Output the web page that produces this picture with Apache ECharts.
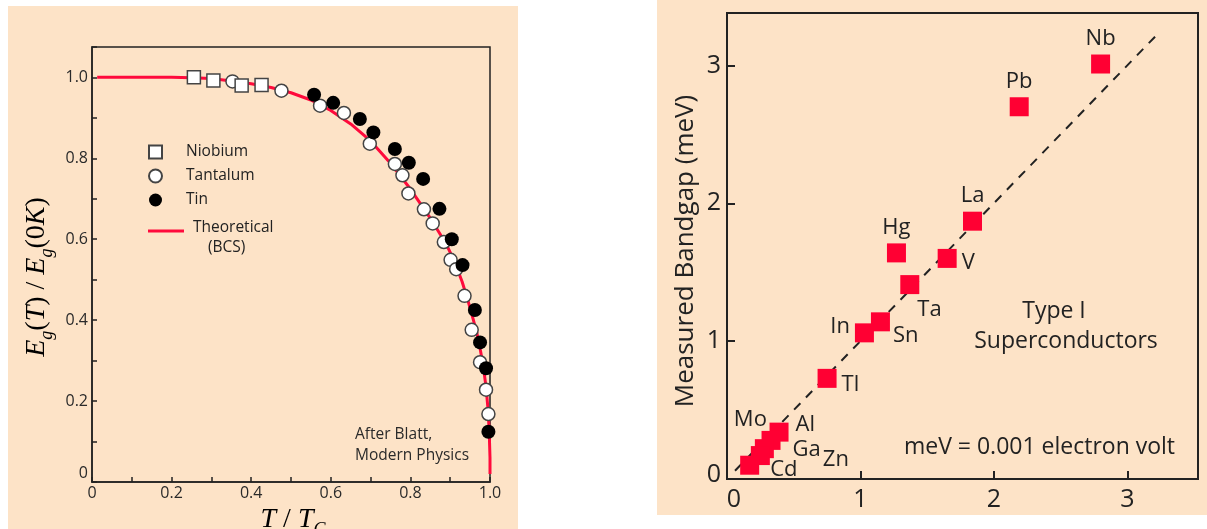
<!DOCTYPE html>
<html><head><meta charset="utf-8">
<script src="https://cdn.jsdelivr.net/npm/echarts@6/dist/echarts.min.js"></script>
<style>html,body{margin:0;padding:0;background:#fff}#c{width:1207px;height:529px}</style>
</head><body><div id="c"></div>
<script>
// ---------- Left panel data: E_g(T)/E_g(0K) vs T/Tc ----------
const niobium = [[0.256,1.0],[0.305,0.992],[0.376,0.98],[0.426,0.981]];
const tantalum = [[0.353,0.99],[0.476,0.967],[0.573,0.93],[0.633,0.912],[0.698,0.836],[0.761,0.786],
  [0.78,0.758],[0.795,0.713],[0.834,0.674],[0.856,0.639],[0.884,0.593],[0.901,0.549],[0.915,0.526],
  [0.936,0.46],[0.954,0.376],[0.975,0.296],[0.99,0.228],[0.996,0.168],[1.004,0.057]];
const tin = [[0.558,0.957],[0.606,0.937],[0.673,0.897],[0.707,0.864],[0.761,0.823],[0.796,0.789],
  [0.832,0.749],[0.873,0.675],[0.904,0.6],[0.931,0.536],[0.962,0.425],[0.975,0.345],[0.99,0.281],[0.996,0.124]];
const bcsCurve = [[0.013,1.0],[0.1,1.0],[0.2,1.0],[0.25,0.999],[0.3,0.997],[0.35,0.991],[0.4,0.984],
  [0.45,0.975],[0.5,0.962],[0.55,0.944],[0.6,0.918],[0.65,0.885],[0.7,0.843],[0.75,0.788],[0.8,0.724],
  [0.85,0.652],[0.89,0.588],[0.91,0.547],[0.93,0.495],[0.945,0.447],[0.957,0.405],[0.967,0.368],
  [0.976,0.325],[0.984,0.28],[0.99,0.235],[0.995,0.18],[0.998,0.125],[1.0,0.06],[1.0,0.02]];

// ---------- Right panel data: measured gap vs 3.52 kTc ----------
const elements     = ['Nb','Pb','La','Hg','V','Ta','Sn','In','Tl','Al','Ga','Mo','Zn','Cd'];
const predictedGap = [2.80,2.19,1.84,1.27,1.65,1.37,1.15,1.03,0.75,0.39,0.33,0.28,0.25,0.17];
const measuredGap  = [3.01,2.70,1.87,1.64,1.60,1.41,1.14,1.06,0.73,0.34,0.28,0.22,0.17,0.10];
const fitLine = [[0.06,0.06],[3.23,3.23]];

// label placement (style only)
const labelPlace = {Nb:['top',0,0],Pb:['top',0,0],La:['top',0,0],Hg:['top',0,0],V:['right',0,4],
  Ta:['right',-7,25],Sn:['right',-2,14],In:['left',0,-6],Tl:['right',0,6],Al:['right',2,-7],
  Ga:['right',7,9],Mo:['top',-14,-3],Zn:['right',48,4],Cd:['right',6,5]};

const peach = '#FDE3C7';
const sans = '"Open Sans","Noto Sans",sans-serif';
const serif = '"Liberation Serif","DejaVu Serif",serif';
const red = '#FF0A3C';
const dark = '#222';

function evenLabelX(v){const k=Math.round(v*10); if(Math.abs(v*10-k)>1e-6||k%2) return ''; return k===0?'0':(k/10).toFixed(1);}
function evenLabelY(v){const s=evenLabelX(v); return s==='0'?'{z|0}':s;}
function intLabelX(v){const k=Math.round(v); if(Math.abs(v-k)>1e-6) return ''; return k===0?'{z|0}':String(k);}
function intLabelY(v){const k=Math.round(v); if(Math.abs(v-k)>1e-6) return ''; return k===0?'{z|0}':String(k);}

const chart = echarts.init(document.getElementById('c'));

const leftAxisCommon = {
  type:'value', gridIndex:0, interval:0.1, splitLine:{show:false},
  axisLine:{show:true,lineStyle:{color:dark,width:1.5}},
  axisTick:{show:true,inside:true,length:5,lineStyle:{color:dark,width:1.5}}
};
const leftLabel = {fontSize:16,color:'#2a2a2a',fontFamily:sans};
const rightAxisCommon = {
  type:'value', gridIndex:1, interval:1, splitLine:{show:false},
  axisLine:{show:true,lineStyle:{color:dark,width:2}},
  axisTick:{show:true,inside:true,length:8,lineStyle:{color:dark,width:2}}
};
const rightLabel = {fontSize:25,color:dark,fontFamily:sans};

const richTitle = {
  i:{fontFamily:serif,fontStyle:'italic',fontSize:28,color:'#111',lineHeight:30},
  r:{fontFamily:serif,fontSize:28,color:'#111',lineHeight:30},
  s:{fontFamily:serif,fontStyle:'italic',fontSize:18,color:'#111',lineHeight:38,verticalAlign:'bottom'}
};

const option = {
  animation:false,
  backgroundColor:'#fff',
  graphic:[
    {type:'rect',z:-10,silent:true,shape:{x:8,y:6,width:510,height:523},style:{fill:peach}},
    {type:'rect',z:-10,silent:true,shape:{x:657,y:0,width:550,height:515},style:{fill:peach}},
    {type:'text',x:37,y:277,rotation:Math.PI/2,style:{text:'{i|E}{s|g}{r|(}{i|T}{r|) / }{i|E}{s|g}{r|(0}{i|K}{r|)}',rich:richTitle,align:'center',verticalAlign:'middle'}},
    {type:'text',x:293,y:520,style:{text:'{i|T}{r| / }{i|T}{s|C}',rich:richTitle,align:'center',verticalAlign:'middle'}},
    {type:'text',x:355,y:424.5,style:{text:'After Blatt,\nModern Physics',fontFamily:sans,fontSize:15.5,lineHeight:21,fill:'#2a2a2a',align:'left',verticalAlign:'top'}},
    {type:'text',x:685.5,y:251,rotation:Math.PI/2,style:{text:'Measured Bandgap (meV)',fontFamily:sans,fontSize:26,fill:dark,align:'center',verticalAlign:'middle'}},
    {type:'text',x:1054,y:311,style:{text:'Type I',fontFamily:sans,fontSize:23,fill:dark,align:'center',verticalAlign:'middle'}},
    {type:'text',x:1066,y:341,style:{text:'Superconductors',fontFamily:sans,fontSize:23,fill:dark,align:'center',verticalAlign:'middle'}},
    {type:'text',x:1039.5,y:447,style:{text:'meV = 0.001 electron volt',fontFamily:sans,fontSize:23,fill:dark,align:'center',verticalAlign:'middle'}}
  ],
  grid:[
    {left:92,top:47,width:398,height:435,show:true,borderColor:dark,borderWidth:1.5,backgroundColor:'transparent'},
    {left:727,top:13,width:471,height:466,show:true,borderColor:dark,borderWidth:2,backgroundColor:'transparent'}
  ],
  xAxis:[
    Object.assign({},leftAxisCommon,{min:0,max:1,axisLabel:Object.assign({},leftLabel,{margin:3,formatter:evenLabelX})}),
    Object.assign({},rightAxisCommon,{min:0,max:3.53,axisLabel:Object.assign({},rightLabel,{margin:8,formatter:intLabelX,
      rich:{z:{fontSize:25,color:dark,fontFamily:sans,padding:[0,0,0,14]}}})})
  ],
  yAxis:[
    Object.assign({},leftAxisCommon,{min:0,max:1.075,axisLabel:Object.assign({},leftLabel,{margin:4,formatter:evenLabelY,
      rich:{z:{fontSize:16,color:'#2a2a2a',fontFamily:sans,padding:[0,0,18,0]}}})}),
    Object.assign({},rightAxisCommon,{min:0,max:3.38,axisLabel:Object.assign({},rightLabel,{margin:6,formatter:intLabelY,
      rich:{z:{fontSize:25,color:dark,fontFamily:sans,padding:[0,0,8,0]}}})})
  ],
  legend:[
    {data:['Niobium','Tantalum','Tin'],orient:'vertical',left:143,top:139,itemWidth:13,itemHeight:13,itemGap:8,
     selectedMode:false,formatter:'{t|{name}}',
     textStyle:{fontSize:15.5,color:dark,fontFamily:sans,lineHeight:14,
       rich:{t:{fontSize:15.5,color:dark,fontFamily:sans,lineHeight:14,padding:[0,0,0,19]}}}},
    {data:[{name:'Theoretical (BCS)',icon:'rect'}],left:143,top:215,itemWidth:36,itemHeight:3,selectedMode:false,
     symbolKeepAspect:false,
     formatter:'{a|Theoretical}\n{b|(BCS)}',
     textStyle:{fontSize:15.5,color:dark,fontFamily:sans,
       rich:{a:{fontSize:15.5,color:dark,fontFamily:sans,lineHeight:34,padding:[0,0,0,4]},
             b:{fontSize:15.5,color:dark,fontFamily:sans,lineHeight:6,padding:[0,0,0,19]}}}}
  ],
  series:[
    {name:'Theoretical (BCS)',type:'line',xAxisIndex:0,yAxisIndex:0,data:bcsCurve,symbol:'none',showSymbol:false,
     lineStyle:{color:red,width:3},itemStyle:{color:red},z:1},
    {name:'Tantalum',type:'scatter',xAxisIndex:0,yAxisIndex:0,data:tantalum,symbol:'circle',symbolSize:13,
     itemStyle:{color:'#fff',borderColor:'#444',borderWidth:1.5,opacity:1},z:3},
    {name:'Niobium',type:'scatter',xAxisIndex:0,yAxisIndex:0,data:niobium,symbol:'rect',symbolSize:13,
     itemStyle:{color:'#fff',borderColor:'#444',borderWidth:1.5,opacity:1},z:4},
    {name:'Tin',type:'scatter',xAxisIndex:0,yAxisIndex:0,data:tin,symbol:'circle',symbolSize:14,
     itemStyle:{color:'#000',opacity:1},z:5},
    {name:'BCS prediction',type:'line',xAxisIndex:1,yAxisIndex:1,data:fitLine,symbol:'none',
     lineStyle:{color:dark,width:2,type:[9,8]},z:1},
    {name:'Type I superconductors',type:'scatter',xAxisIndex:1,yAxisIndex:1,symbol:'rect',symbolSize:19,
     itemStyle:{color:'#FF0033',opacity:1},z:3,
     data:elements.map((el,i)=>{const p=labelPlace[el];return {name:el,value:[predictedGap[i],measuredGap[i]],
       label:{position:p[0],offset:[p[1],p[2]]}};}),
     label:{show:true,formatter:'{b}',fontSize:22,color:dark,fontFamily:sans,distance:5}}
  ]
};
chart.setOption(option);
</script></body></html>
